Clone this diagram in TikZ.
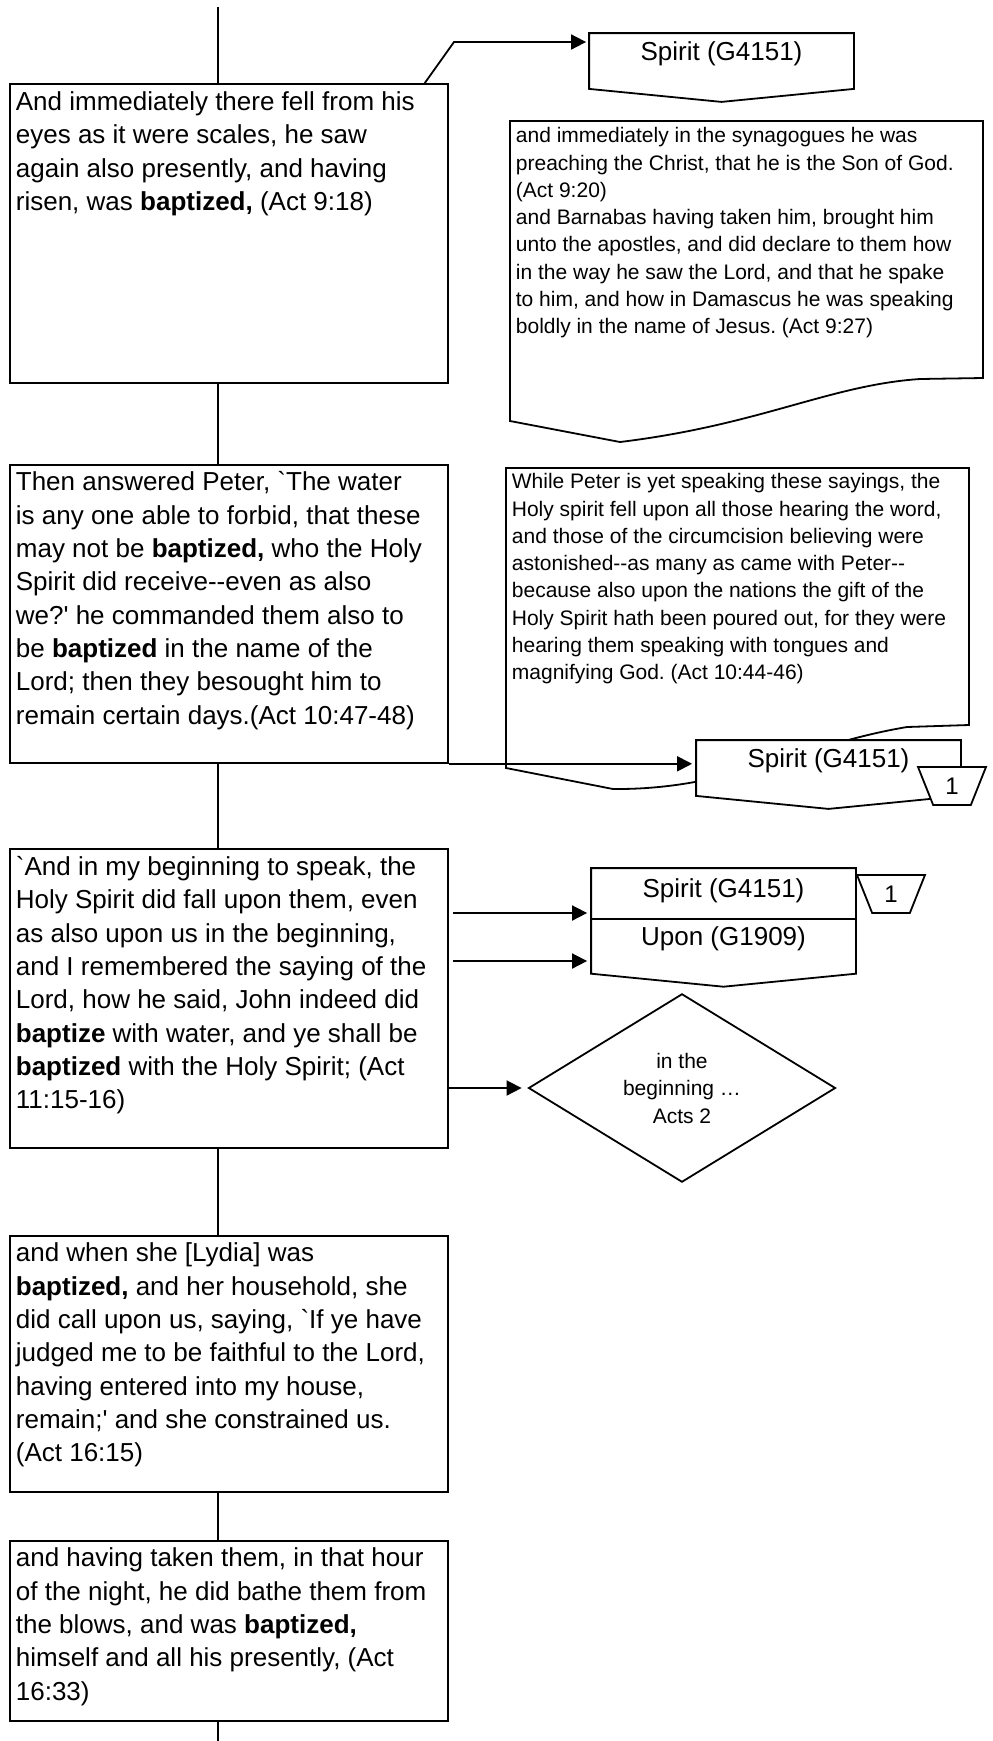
\documentclass[tikz,border=0pt]{standalone}
\usepackage{fontspec}
\setmainfont{Liberation Sans}[Ligatures=TeXOff]
\usetikzlibrary{arrows.meta,positioning,shapes.geometric}
\frenchspacing

\begin{document}
\begin{tikzpicture}[x=0.5pt, y=-0.5pt, line width=0.9pt,
  verse/.style={draw, minimum width=219pt, inner sep=0pt, anchor=north west},
  versetext/.style={anchor=north west, inner sep=0pt, align=left,
                    font=\fontsize{13}{16.67}\selectfont},
  doctext/.style={anchor=north west, inner sep=0pt, align=left,
                  font=\fontsize{10.5}{13.62}\selectfont},
  offpage/.style={fill=white, minimum width=131.5pt, inner sep=0pt,
                  font=\fontsize{13}{16}\selectfont, text height=13pt, text depth=14pt},
  tag/.style={draw, fill=white, trapezium, shape border rotate=180,
              trapezium angle=72, trapezium stretches=true, minimum width=34pt,
              minimum height=19pt, inner sep=0pt, font=\fontsize{12}{14}\selectfont},
  link/.style={-{Triangle[length=7.5pt,width=7.5pt]}}
]
  \useasboundingbox (0,0) rectangle (992,1741);

  % left column
  \node[verse, minimum height=149.5pt] (act918)  at (9,83)   {};
  \node[verse, minimum height=149pt]   (act1047) at (9,464)  {};
  \node[verse, minimum height=149.5pt] (act1115) at (9,848)  {};
  \node[verse, minimum height=128pt]   (act1615) at (9,1235) {};
  \node[verse, minimum height=90pt]    (act1633) at (9,1540) {};

  \node[versetext] (act918txt) at ([xshift=3pt,yshift=-3.25pt]act918.north west)
    {\rule{0pt}{10pt}And immediately there fell from his\\
     eyes as it were scales, he saw\\
     again also presently, and having\\
     risen, was \textbf{baptized,} (Act 9:18)};
  \node[versetext] (act1047txt) at ([xshift=3pt,yshift=-3pt]act1047.north west)
    {\rule{0pt}{10pt}Then answered Peter, `The water\\
     is any one able to forbid, that these\\
     may not be \textbf{baptized,} who the Holy\\
     Spirit did receive--even as also\\
     we?' he commanded them also to\\
     be \textbf{baptized} in the name of the\\
     Lord; then they besought him to\\
     remain certain days.(Act 10:47-48)};
  \node[versetext] (act1115txt) at ([xshift=3pt,yshift=-3.25pt]act1115.north west)
    {\rule{0pt}{10pt}`And in my beginning to speak, the\\
     Holy Spirit did fall upon them, even\\
     as also upon us in the beginning,\\
     and I remembered the saying of the\\
     Lord, how he said, John indeed did\\
     \textbf{baptize} with water, and ye shall be\\
     \textbf{baptized} with the Holy Spirit; (Act\\
     11:15-16)};
  \node[versetext] (act1615txt) at ([xshift=3pt,yshift=-3pt]act1615.north west)
    {\rule{0pt}{10pt}and when she [Lydia] was\\
     \textbf{baptized,} and her household, she\\
     did call upon us, saying, `If ye have\\
     judged me to be faithful to the Lord,\\
     having entered into my house,\\
     remain;' and she constrained us.\\
     (Act 16:15)};
  \node[versetext] (act1633txt) at ([xshift=3pt,yshift=-3pt]act1633.north west)
    {\rule{0pt}{10pt}and having taken them, in that hour\\
     of the night, he did bathe them from\\
     the blows, and was \textbf{baptized,}\\
     himself and all his presently, (Act\\
     16:33)};

  % spine
  \coordinate (top) at (218,7);
  \coordinate (bottom) at (218,1741);
  \draw (top) -- (top |- act918.north);
  \draw (act918.south -| top)  -- (act1047.north -| top);
  \draw (act1047.south -| top) -- (act1115.north -| top);
  \draw (act1115.south -| top) -- (act1615.north -| top);
  \draw (act1615.south -| top) -- (act1633.north -| top);
  \draw (act1633.south -| top) -- (bottom);

  % documents
  \draw (510,121) -- (983,121) -- (983,378) -- (920,379)
        .. controls (830,385) and (760,425) .. (620,442) -- (510,421) -- cycle;
  \node[doctext] (doc927) at (515,125)
    {\rule{0pt}{8.5pt}and immediately in the synagogues he was\\
     preaching the Christ, that he is the Son of God.\\
     (Act 9:20)\\
     and Barnabas having taken him, brought him\\
     unto the apostles, and did declare to them how\\
     in the way he saw the Lord, and that he spake\\
     to him, and how in Damascus he was speaking\\
     boldly in the name of Jesus. (Act 9:27)};

  \draw (506,468) -- (969,468) -- (969,725) -- (907,727)
        .. controls (800,745) and (730,790) .. (613,789) -- (506,768) -- cycle;
  \node[doctext] (doc1044) at (511,471)
    {\rule{0pt}{8.5pt}While Peter is yet speaking these sayings, the\\
     Holy spirit fell upon all those hearing the word,\\
     and those of the circumcision believing were\\
     astonished--as many as came with Peter--\\
     because also upon the nations the gift of the\\
     Holy Spirit hath been poured out, for they were\\
     hearing them speaking with tongues and\\
     magnifying God. (Act 10:44-46)};

  % off-page words
  \node[offpage] (spirit1) at (721.5,61) {Spirit (G4151)};
  \draw (spirit1.north west) -- (spirit1.north east) -- (spirit1.south east)
        -- ([yshift=-6.5pt]spirit1.south) -- (spirit1.south west) -- cycle;

  \node[offpage] (spirit2) at (828.5,768) {Spirit (G4151)};
  \draw (spirit2.north west) -- (spirit2.north east) -- (spirit2.south east)
        -- ([yshift=-6.5pt]spirit2.south) -- (spirit2.south west) -- cycle;
  \node[tag] (tag2) at (952,786) {1};

  \node[offpage, text height=14pt, text depth=10.5pt] (spirit3) at (723.5,893.5) {Spirit (G4151)};
  \node[offpage, text depth=13.5pt, below=0pt of spirit3] (upon) {Upon (G1909)};
  \draw (spirit3.north west) -- (spirit3.north east) -- (upon.south east)
        -- ([yshift=-6.5pt]upon.south) -- (upon.south west) -- cycle;
  \draw (spirit3.south west) -- (spirit3.south east);
  \node[tag] (tag3) at (891,894) {1};

  \node[draw, diamond, minimum width=153.5pt, minimum height=87pt, inner sep=0pt,
        align=center, font=\fontsize{10.5}{13.75}\selectfont] (begin) at (682,1088)
    {in the\\beginning …\\Acts 2};

  % arrows
  \coordinate (kink) at (454,42);
  \coordinate (in1) at (453,913);
  \coordinate (in2) at (453,961);
  \draw[link, shorten >=1.5pt] ([xshift=-12pt]act918.north east) -- (kink) -- (kink -| spirit1.west);
  \draw[link, shorten >=2pt] (act1047.south east) -- (act1047.south east -| spirit2.west);
  \draw[link, shorten >=2pt] (in1) -- (in1 -| spirit3.west);
  \draw[link, shorten >=2pt] (in2) -- (in2 -| upon.west);
  \draw[link, shorten >=3pt] (begin.west -| act1115.east) -- (begin.west);
\end{tikzpicture}
\end{document}
